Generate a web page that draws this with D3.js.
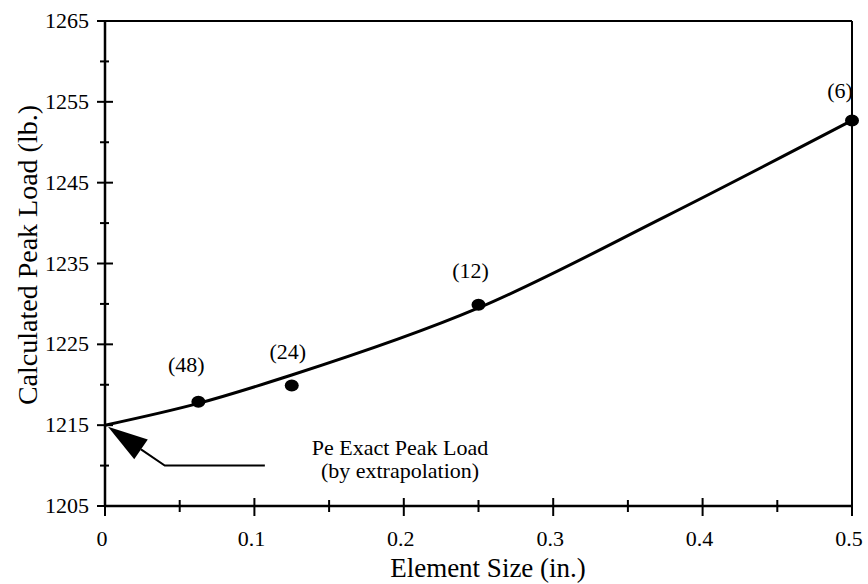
<!DOCTYPE html>
<html>
<head>
<meta charset="utf-8">
<script src="https://cdn.jsdelivr.net/npm/d3@7"></script>
<style>
  html, body { margin: 0; padding: 0; background: #fff; }
  svg { display: block; }
</style>
</head>
<body>
<svg id="chart" width="868" height="584"></svg>
<script>
// Element sizes (in.) and calculated peak loads (lb.) from the mesh study
const elementSize = [0.0625, 0.125, 0.25, 0.5];
const peakLoad = [1217.9, 1219.9, 1229.9, 1252.7];
const meshLabels = ["(48)", "(24)", "(12)", "(6)"];

// Extrapolation curve through the results, down to zero element size
const curveSize = [0, 0.0625, 0.125, 0.25, 0.375, 0.5];
const curveLoad = [1215, 1217.7, 1221.2, 1229.5, 1240.8, 1252.7];

// Axis ticks
const xMajorTicks = [0, 0.1, 0.2, 0.3, 0.4, 0.5];
const xMinorTicks = [0.05, 0.15, 0.25, 0.35, 0.45];
const yMajorTicks = [1205, 1215, 1225, 1235, 1245, 1255, 1265];
const yMinorTicks = [1210, 1220, 1230, 1240, 1250, 1260];

// Annotation arrow: tip, elbow and end of the leader line
const arrowSize = [0.002, 0.04, 0.107];
const arrowLoad = [1214.8, 1210, 1210];
const noteLines = ["Pe Exact Peak Load", "(by extrapolation)"];

const FONT = "'Liberation Serif', 'DejaVu Serif', serif";

const svg = d3.select("#chart")
  .attr("font-family", FONT)
  .style("font-family", FONT);
const plotL = 105, plotR = 852, plotT = 21, plotB = 506;

const x = d3.scaleLinear().domain([0, 0.5]).range([plotL, plotR]);
const y = d3.scaleLinear().domain([1205, 1265]).range([plotB, plotT]);

// Frame: top and right borders
svg.append("line").attr("x1", plotL).attr("x2", plotR).attr("y1", plotT).attr("y2", plotT)
  .attr("stroke", "#000").attr("stroke-width", 2);
svg.append("line").attr("x1", plotR).attr("x2", plotR).attr("y1", plotT).attr("y2", plotB)
  .attr("stroke", "#000").attr("stroke-width", 2);

// Left axis
const yAxis = svg.append("g");
yAxis.append("line").attr("x1", plotL).attr("x2", plotL).attr("y1", plotT).attr("y2", plotB)
  .attr("stroke", "#000").attr("stroke-width", 2.5);
yAxis.selectAll(".ymaj").data(yMajorTicks).join("line")
  .attr("class", "ymaj")
  .attr("x1", plotL - 8).attr("x2", plotL + 8)
  .attr("y1", d => y(d)).attr("y2", d => y(d))
  .attr("stroke", "#000").attr("stroke-width", 2);
yAxis.selectAll(".ymin").data(yMinorTicks).join("line")
  .attr("class", "ymin")
  .attr("x1", plotL - 5).attr("x2", plotL + 4)
  .attr("y1", d => y(d)).attr("y2", d => y(d))
  .attr("stroke", "#000").attr("stroke-width", 2);
yAxis.selectAll("text").data(yMajorTicks).join("text")
  .attr("x", plotL - 16).attr("y", d => y(d) + 7)
  .attr("text-anchor", "end")
  .attr("font-size", 22)
  .text(d => d);

// Bottom axis
const xAxis = svg.append("g");
xAxis.append("line").attr("x1", plotL).attr("x2", plotR).attr("y1", plotB).attr("y2", plotB)
  .attr("stroke", "#000").attr("stroke-width", 2.5);
xAxis.selectAll(".xmaj").data(xMajorTicks).join("line")
  .attr("class", "xmaj")
  .attr("x1", d => x(d)).attr("x2", d => x(d))
  .attr("y1", plotB - 8).attr("y2", plotB + 10)
  .attr("stroke", "#000").attr("stroke-width", 2);
xAxis.selectAll(".xmin").data(xMinorTicks).join("line")
  .attr("class", "xmin")
  .attr("x1", d => x(d)).attr("x2", d => x(d))
  .attr("y1", plotB - 6).attr("y2", plotB + 6)
  .attr("stroke", "#000").attr("stroke-width", 2);
xAxis.selectAll("text").data(xMajorTicks).join("text")
  .attr("x", d => x(d) - 3).attr("y", plotB + 40)
  .attr("text-anchor", "middle")
  .attr("font-size", 22)
  .text(d => d === 0 ? "0" : String(d));

// Axis titles
svg.append("text")
  .attr("x", 488).attr("y", 577)
  .attr("text-anchor", "middle")
  .attr("font-size", 27)
  .text("Element Size (in.)");
svg.append("text")
  .attr("transform", "translate(37,255) rotate(-90)")
  .attr("text-anchor", "middle")
  .attr("font-size", 28)
  .text("Calculated Peak Load (lb.)");

// Extrapolation curve
const line = d3.line()
  .x((d, i) => x(curveSize[i]))
  .y(d => y(d))
  .curve(d3.curveMonotoneX);
svg.append("path")
  .attr("d", line(curveLoad))
  .attr("fill", "none")
  .attr("stroke", "#000")
  .attr("stroke-width", 3);

// Result markers
svg.selectAll(".pt").data(peakLoad).join("ellipse")
  .attr("class", "pt")
  .attr("cx", (d, i) => x(elementSize[i]))
  .attr("cy", d => y(d))
  .attr("rx", 7).attr("ry", 6)
  .attr("fill", "#000");

// Mesh density labels
const labelDx = [-12, -4, -8, -12];
const labelDy = [-30, -27, -27, -22];
svg.selectAll(".ml").data(meshLabels).join("text")
  .attr("class", "ml")
  .attr("x", (d, i) => x(elementSize[i]) + labelDx[i])
  .attr("y", (d, i) => y(peakLoad[i]) + labelDy[i])
  .attr("text-anchor", "middle")
  .attr("font-size", 22)
  .text(d => d);

// Annotation arrow
const tip = [x(arrowSize[0]), y(arrowLoad[0])];
const elbow = [x(arrowSize[1]), y(arrowLoad[1])];
const end = [x(arrowSize[2]), y(arrowLoad[2])];
const ang = Math.atan2(elbow[1] - tip[1], elbow[0] - tip[0]);
const headLen = 40, headHalf = 12;
const bx = tip[0] + headLen * Math.cos(ang), by = tip[1] + headLen * Math.sin(ang);
svg.append("path")
  .attr("d", `M${bx},${by}L${elbow[0]},${elbow[1]}L${end[0]},${end[1]}`)
  .attr("fill", "none").attr("stroke", "#000").attr("stroke-width", 2);
svg.append("path")
  .attr("d", `M${tip[0]},${tip[1]}` +
    `L${bx - headHalf * Math.sin(ang)},${by + headHalf * Math.cos(ang)}` +
    `L${bx + headHalf * Math.sin(ang)},${by - headHalf * Math.cos(ang)}Z`)
  .attr("fill", "#000");

svg.selectAll(".note").data(noteLines).join("text")
  .attr("class", "note")
  .attr("x", 400)
  .attr("y", (d, i) => 455 + i * 23)
  .attr("text-anchor", "middle")
  .attr("font-size", 22)
  .text(d => d);
</script>
</body>
</html>
